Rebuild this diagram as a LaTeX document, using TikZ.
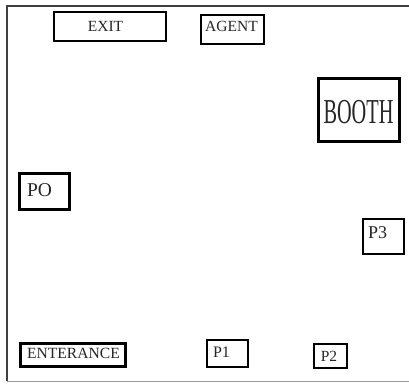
\documentclass[tikz,border=0pt]{standalone}
\usepackage{fontspec}
\setmainfont{Liberation Serif}
\usepackage{graphicx}
\newcommand\lbl[3]{\raisebox{\dimexpr#2-0.33em\relax}[0pt][0pt]{\makebox[0pt]{\hspace*{#1}#3}}}
\tikzset{
  box/.style={draw=black, inner sep=0pt, rectangle, text=black!85},
  frameline/.style={draw=black!75, line width=2pt},
}
\begin{document}
\begin{tikzpicture}[x=1pt,y=-1pt]
\useasboundingbox[fill=white] (0,0) rectangle (409,383);
% outer frame
\coordinate (tl) at (7,6);
\coordinate (tr) at (409,6);
\coordinate (bl) at (7,381);
\coordinate (br) at (409,381);
\draw[frameline] (tr) -- (tl) -- (bl);
\draw[black!40, line width=1pt] (bl) -- (br);
% boxes
\node[box, line width=1.5pt, minimum width=112pt, minimum height=29pt, font=\fontsize{15.5}{16}\selectfont] (exit) at (110,26.5) {\lbl{-9pt}{0pt}{EXIT}};
\node[box, line width=2pt, minimum width=63pt, minimum height=29pt, font=\fontsize{15.5}{16}\selectfont] (agent) at (232.5,29.5) {\lbl{-2pt}{3.5pt}{AGENT}};
\node[box, line width=3pt, minimum width=81pt, minimum height=63pt, font=\fontsize{35}{35}\selectfont] (booth) at (358.5,110) {\lbl{0pt}{-1.5pt}{\scalebox{0.58}[1]{BOOTH}}};
\node[box, line width=3pt, minimum width=50pt, minimum height=36pt, font=\fontsize{19.5}{20}\selectfont] (po) at (44,191) {\lbl{-9pt}{1pt}{PO}};
\node[box, line width=2.5pt, minimum width=41pt, minimum height=35pt, font=\fontsize{18}{18}\selectfont] (p3) at (383.5,236.5) {\lbl{-12pt}{3.5pt}{P3}};
\node[box, line width=3pt, minimum width=105pt, minimum height=23pt, font=\fontsize{15.6}{16}\selectfont] (ent) at (72.5,354.5) {\lbl{2pt}{1.5pt}{ENTERANCE}};
\node[box, line width=2.5pt, minimum width=41pt, minimum height=27pt, font=\fontsize{16}{16}\selectfont] (p1) at (227.5,353.5) {\lbl{-12pt}{1.5pt}{P1}};
\node[box, line width=2.5pt, minimum width=33pt, minimum height=24pt, font=\fontsize{15.5}{16}\selectfont] (p2) at (330.5,356) {\lbl{-3pt}{-0.5pt}{P2}};
\end{tikzpicture}
\end{document}
